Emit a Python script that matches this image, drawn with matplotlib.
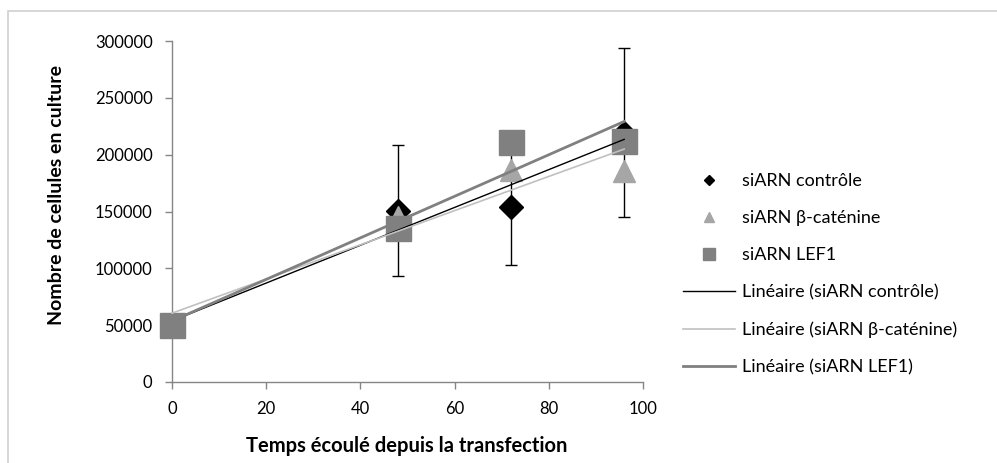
import numpy as np
import matplotlib
matplotlib.use('Agg')
import matplotlib.pyplot as plt
from matplotlib.patches import Rectangle

# time points (hours after transfection)
hours = [0, 48, 72, 96]

# cell counts
ctrl = [50000, 150800, 154300, 219300]
ctrl_err = [0, 57800, 51000, 74200]
bcat = [50000, 145000, 186500, 185500]
lef1 = [50000, 135700, 211500, 212400]

names = ['siARN contrôle', 'siARN β-caténine', 'siARN LEF1']
x_ticks = [0, 20, 40, 60, 80, 100]
y_ticks = [0, 50000, 100000, 150000, 200000, 250000, 300000]

plt.rcParams['font.family'] = ['Lato', 'DejaVu Sans']

W, H = 997, 463
fig = plt.figure(figsize=(W / 100, H / 100), dpi=100)
ax = fig.add_axes([172 / W, 1 - 382 / H, (643 - 172) / W, (382 - 41) / H])

# light grey chart-area frame (Excel style)
fig.add_artist(Rectangle((8 / W, -0.2), 1.2, 1.2 - 11 / H, transform=fig.transFigure,
                         fill=False, edgecolor='#d0d0d0', linewidth=1.2))

# control series with error bars
ax.errorbar(hours, ctrl, yerr=ctrl_err, fmt='none', ecolor='black', elinewidth=1,
            capsize=4.5, capthick=1, zorder=2)
h1, = ax.plot(hours, ctrl, linestyle='none', marker='D', markersize=12, color='black',
              zorder=3, label=names[0], clip_on=False)
h2, = ax.plot(hours, bcat, linestyle='none', marker='^', markersize=16, color='#a6a6a6',
              zorder=4, label=names[1], clip_on=False)
h3, = ax.plot(hours, lef1, linestyle='none', marker='s', markersize=18, color='#808080',
              zorder=5, label=names[2], clip_on=False)

# linear trend lines
xs = np.array([hours[0], hours[-1]])
trend_styles = [('black', 1.0), ('#c0c0c0', 1.2), ('#808080', 2.0)]
trend_handles = []
for vals, name, (col, lw) in zip([ctrl, bcat, lef1], names, trend_styles):
    k, b = np.polyfit(hours, vals, 1)
    ln, = ax.plot(xs, k * xs + b, color=col, linewidth=lw, zorder=6,
                  label='Linéaire (' + name + ')', clip_on=False)
    trend_handles.append(ln)

ax.set_xlim(0, 100)
ax.set_ylim(0, 300000)
ax.set_xticks(x_ticks)
ax.set_yticks(y_ticks)
ax.tick_params(axis='both', colors='#868686', labelcolor='black', labelsize=12,
               direction='out', length=5, width=1, pad=9)
for s in ['top', 'right']:
    ax.spines[s].set_visible(False)
for s in ['left', 'bottom']:
    ax.spines[s].set_color('#868686')
    ax.spines[s].set_linewidth(1)

fig.text(57 / W, 1 - 195 / H, 'Nombre de cellules en culture', rotation=90,
         ha='center', va='center', fontsize=14, fontweight='bold')
fig.text(407 / W, 1 - 452 / H, 'Temps écoulé depuis la transfection',
         ha='center', va='baseline', fontsize=14.5, fontweight='bold')

ax.legend(handles=[h1, h2, h3] + trend_handles, loc='upper left',
          bbox_to_anchor=(683 / W, 1 - 173 / H), bbox_transform=fig.transFigure,
          frameon=False, fontsize=13, markerscale=0.45, handlelength=2.9,
          handletextpad=0.35, labelspacing=1.17, borderpad=0, borderaxespad=0)

fig.savefig('out.png', dpi=100)
